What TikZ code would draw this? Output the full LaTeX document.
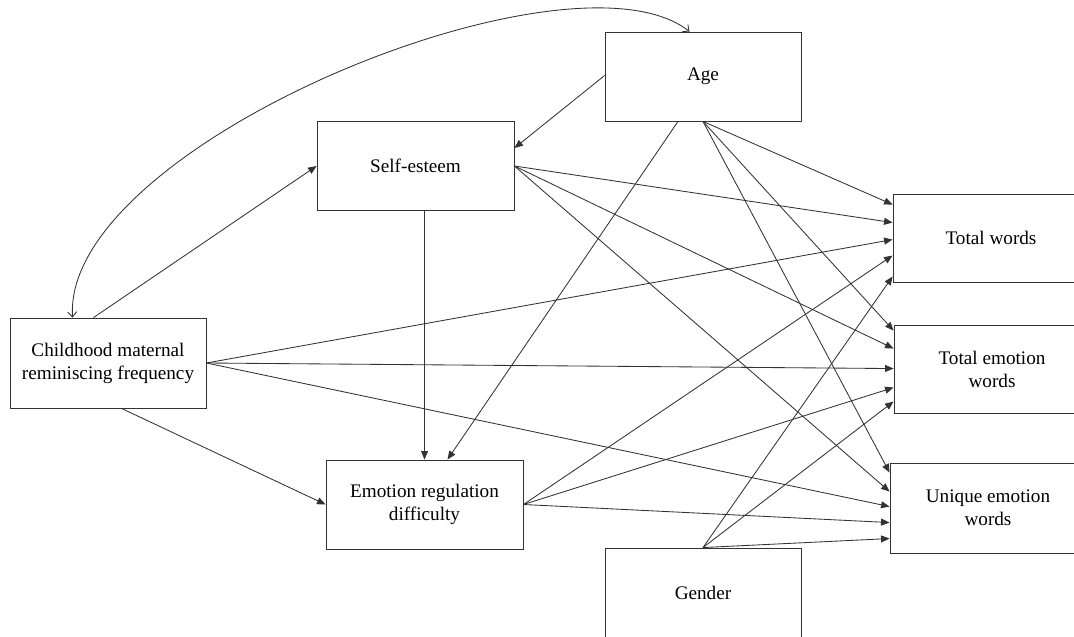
\documentclass[tikz,border=0pt]{standalone}
\usepackage{fontspec}
\setmainfont{Liberation Serif}
\usetikzlibrary{arrows.meta,calc}
\begin{document}
\begin{tikzpicture}[x=1pt,y=-1pt,
  box/.style={draw=black!80,line width=0.9pt,minimum width=196pt,minimum height=89pt,inner sep=0pt,align=center,font=\fontsize{19.2}{23}\selectfont,text=black},
  path/.style={draw=black!80,line width=0.85pt,-{Triangle[length=8.5pt,width=7pt]}},
  cov/.style={draw=black!80,line width=0.85pt,{Straight Barb[length=5pt,width=9pt]}-{Straight Barb[length=5pt,width=9pt]}}]
\useasboundingbox (0,0) rectangle (1074,637);
\fill[white] (0,0) rectangle (1074,637);
\clip (0,0) rectangle (1074,637);
\node[box] (age) at (703,76.5) {Age};
\node[box,minimum width=197pt] (se) at (415.5,166) {Self-esteem};
\node[box,minimum height=90pt] (cm) at (108,363) {Childhood maternal\\reminiscing frequency};
\node[box,minimum width=197pt] (er) at (424.5,504.5) {Emotion regulation\\difficulty};
\node[box,minimum height=90pt] (gen) at (703,593) {Gender};
\node[box,minimum height=88pt] (tw) at (991,238) {Total words};
\node[box,minimum height=88pt] (tew) at (992,369) {Total emotion\\words};
\node[box,minimum height=90pt] (uew) at (988,508) {Unique emotion\\words};
% target points
\coordinate (tw1) at ($(tw.north west)+(0,11)$);
\coordinate (tw2) at ($(tw.north west)+(0,29)$);
\coordinate (tw3) at ($(tw.north west)+(0,46)$);
\coordinate (tw4) at ($(tw.north west)+(0,62)$);
\coordinate (tw5) at ($(tw.north west)+(0,83)$);
\coordinate (te1) at ($(tew.north west)+(0,6)$);
\coordinate (te2) at ($(tew.north west)+(0,24)$);
\coordinate (te3) at ($(tew.north west)+(0,44)$);
\coordinate (te4) at ($(tew.north west)+(0,63)$);
\coordinate (te5) at ($(tew.north west)+(0,77)$);
\coordinate (ue1) at ($(uew.north west)+(0,10)$);
\coordinate (ue2) at ($(uew.north west)+(0,29)$);
\coordinate (ue3) at ($(uew.north west)+(0,44)$);
\coordinate (ue4) at ($(uew.north west)+(0,60)$);
\coordinate (ue5) at ($(uew.north west)+(0,76)$);
% covariance curve
\coordinate (c1) at ($(cm.north west)+(63,0)$);
\coordinate (c2) at ($(age.north west)+(85,0)$);
\draw[cov] (c1) .. controls (62,145) and (570,-62) .. (c2);
% paths
\draw[path] ($(cm.north west)+(84,0)$) -- (se.west);
\draw[path] ($(cm.south west)+(112,0)$) -- (er.west);
\draw[path] ($(age.north west)+(0,44)$) -- ($(se.north east)+(0,27)$);
\draw[path] ($(age.south)+(-25,0)$) -- ($(er.north)+(23,0)$);
\draw[path] (er.north |- se.south) -- (er.north);
% to outcomes
\draw[path] (age.south) -- (tw1);
\draw[path] (age.south) -- (te1);
\draw[path] (age.south) -- (ue1);
\draw[path] (se.east) -- (tw2);
\draw[path] (se.east) -- (te2);
\draw[path] (se.east) -- (ue2);
\draw[path] (cm.east) -- (tw3);
\draw[path] (cm.east) -- (te3);
\draw[path] (cm.east) -- (ue3);
\draw[path] (er.east) -- (tw4);
\draw[path] (er.east) -- (te4);
\draw[path] (er.east) -- (ue4);
\draw[path] (gen.north) -- (tw5);
\draw[path] (gen.north) -- (te5);
\draw[path] (gen.north) -- (ue5);
\end{tikzpicture}
\end{document}
